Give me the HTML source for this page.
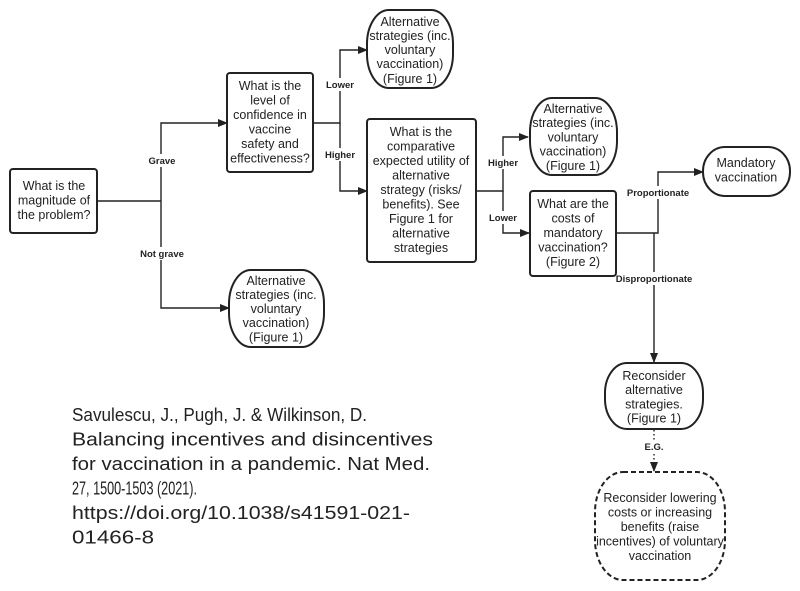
<!DOCTYPE html>
<html><head><meta charset="utf-8"><style>
html,body{margin:0;padding:0;background:#fff;}
svg{display:block;}
.n{font-family:"Liberation Sans",sans-serif;font-size:12.5px;fill:#222;text-anchor:middle;}
.l{font-family:"Liberation Sans",sans-serif;font-size:9.5px;font-weight:bold;fill:#222;text-anchor:middle;}
.c{font-family:"Liberation Sans",sans-serif;font-size:18px;fill:#222;}
.b{fill:#fff;stroke:#222;stroke-width:2;}
.ln{fill:none;stroke:#222;stroke-width:1.4;}
</style></head><body>
<svg width="800" height="591" viewBox="0 0 800 591" xmlns="http://www.w3.org/2000/svg">
<defs><marker id="a" markerWidth="10" markerHeight="8" refX="9" refY="4" orient="auto" markerUnits="userSpaceOnUse"><path d="M0,0 L10,4 L0,8 z" fill="#222"/></marker></defs>

<!-- connectors -->
<path class="ln" d="M97,201 H161 M161,201 V123 H227" marker-end="url(#a)"/>
<path class="ln" d="M161,201 V308 H229" marker-end="url(#a)"/>
<path class="ln" d="M313,123 H340 V50 H367" marker-end="url(#a)"/>
<path class="ln" d="M340,123 V191 H367" marker-end="url(#a)"/>
<path class="ln" d="M476,191 H503 V137 H528" marker-end="url(#a)"/>
<path class="ln" d="M503,191 V233 H529" marker-end="url(#a)"/>
<path class="ln" d="M616,233 H658 V172 H703" marker-end="url(#a)"/>
<path class="ln" d="M654,233 V362" marker-end="url(#a)"/>
<path class="ln" d="M654,430 V471" stroke-dasharray="1.5,2.5" marker-end="url(#a)"/>

<!-- label backgrounds + labels -->
<rect x="146" y="154" width="32" height="13" fill="#fff"/><text class="l" x="162" y="164">Grave</text>
<rect x="138" y="247" width="48" height="13" fill="#fff"/><text class="l" x="162" y="257">Not grave</text>
<rect x="325" y="78" width="32" height="13" fill="#fff"/><text class="l" x="340" y="88">Lower</text>
<rect x="324" y="148" width="34" height="13" fill="#fff"/><text class="l" x="340" y="158">Higher</text>
<rect x="486" y="156" width="34" height="13" fill="#fff"/><text class="l" x="503" y="166">Higher</text>
<rect x="488" y="211" width="32" height="13" fill="#fff"/><text class="l" x="503" y="221">Lower</text>
<rect x="626" y="186" width="64" height="13" fill="#fff"/><text class="l" x="658" y="196">Proportionate</text>
<rect x="616" y="272" width="76" height="13" fill="#fff"/><text class="l" x="654" y="282">Disproportionate</text>
<rect x="642" y="440" width="24" height="13" fill="#fff"/><text class="l" x="654" y="450">E.G.</text>

<!-- nodes -->
<rect class="b" x="10" y="169" width="87" height="64" rx="3"/>
<text class="n"><tspan x="54" y="190">What is the</tspan><tspan x="54" y="204.5">magnitude of</tspan><tspan x="54" y="219">the problem?</tspan></text>

<rect class="b" x="227" y="73" width="86" height="99" rx="3"/>
<text class="n"><tspan x="270" y="90">What is the</tspan><tspan x="270" y="104.5">level of</tspan><tspan x="270" y="119">confidence in</tspan><tspan x="270" y="133.5">vaccine</tspan><tspan x="270" y="148">safety and</tspan><tspan x="270" y="162.5">effectiveness?</tspan></text>

<rect class="b" x="229" y="270" width="95" height="77" rx="22" ry="34"/>
<text class="n"><tspan x="276" y="285">Alternative</tspan><tspan x="276" y="299">strategies (inc.</tspan><tspan x="276" y="313">voluntary</tspan><tspan x="276" y="327">vaccination)</tspan><tspan x="276" y="341.5">(Figure 1)</tspan></text>

<rect class="b" x="367" y="10" width="86" height="78" rx="22" ry="34"/>
<text class="n"><tspan x="410" y="26">Alternative</tspan><tspan x="410" y="40">strategies (inc.</tspan><tspan x="410" y="54">voluntary</tspan><tspan x="410" y="68">vaccination)</tspan><tspan x="410" y="83">(Figure 1)</tspan></text>

<rect class="b" x="367" y="119" width="109" height="143" rx="3"/>
<text class="n"><tspan x="421" y="136">What is the</tspan><tspan x="421" y="150.5">comparative</tspan><tspan x="421" y="165">expected utility of</tspan><tspan x="421" y="179.5">alternative</tspan><tspan x="421" y="194">strategy (risks/</tspan><tspan x="421" y="208.5">benefits). See</tspan><tspan x="421" y="223">Figure 1 for</tspan><tspan x="421" y="237.5">alternative</tspan><tspan x="421" y="252">strategies</tspan></text>

<rect class="b" x="530" y="98" width="87" height="77" rx="22" ry="34"/>
<text class="n"><tspan x="573" y="113">Alternative</tspan><tspan x="573" y="127">strategies (inc.</tspan><tspan x="573" y="141.5">voluntary</tspan><tspan x="573" y="155.5">vaccination)</tspan><tspan x="573" y="170">(Figure 1)</tspan></text>

<rect class="b" x="530" y="191" width="86" height="85" rx="3"/>
<text class="n"><tspan x="573" y="208">What are the</tspan><tspan x="573" y="222.5">costs of</tspan><tspan x="573" y="237">mandatory</tspan><tspan x="573" y="251.5">vaccination?</tspan><tspan x="573" y="266">(Figure 2)</tspan></text>

<rect class="b" x="703" y="147" width="87" height="49" rx="22" ry="24"/>
<text class="n"><tspan x="746" y="167">Mandatory</tspan><tspan x="746" y="181.5">vaccination</tspan></text>

<rect class="b" x="605" y="363" width="98" height="66" rx="22" ry="30"/>
<text class="n"><tspan x="654" y="380">Reconsider</tspan><tspan x="654" y="394">alternative</tspan><tspan x="654" y="408.5">strategies.</tspan><tspan x="654" y="422.5">(Figure 1)</tspan></text>

<rect class="b" x="595" y="472" width="130" height="108" rx="28" ry="40" stroke-dasharray="5,3"/>
<text class="n"><tspan x="660" y="502">Reconsider lowering</tspan><tspan x="660" y="516.5">costs or increasing</tspan><tspan x="660" y="531">benefits (raise</tspan><tspan x="660" y="545.5">incentives) of voluntary</tspan><tspan x="660" y="560">vaccination</tspan></text>

<!-- citation -->
<text class="c" x="72" y="421" textLength="295" lengthAdjust="spacingAndGlyphs">Savulescu, J., Pugh, J. &amp; Wilkinson, D.</text>
<text class="c" x="72" y="445.5" textLength="361" lengthAdjust="spacingAndGlyphs">Balancing incentives and disincentives</text>
<text class="c" x="72" y="470" textLength="358" lengthAdjust="spacingAndGlyphs">for vaccination in a pandemic. Nat Med.</text>
<text class="c" x="72" y="494.5" textLength="125" lengthAdjust="spacingAndGlyphs">27, 1500-1503 (2021).</text>
<text class="c" x="72" y="519" textLength="338" lengthAdjust="spacingAndGlyphs">https://doi.org/10.1038/s41591-021-</text>
<text class="c" x="72" y="543.5" textLength="82" lengthAdjust="spacingAndGlyphs">01466-8</text>
</svg>
</body></html>
